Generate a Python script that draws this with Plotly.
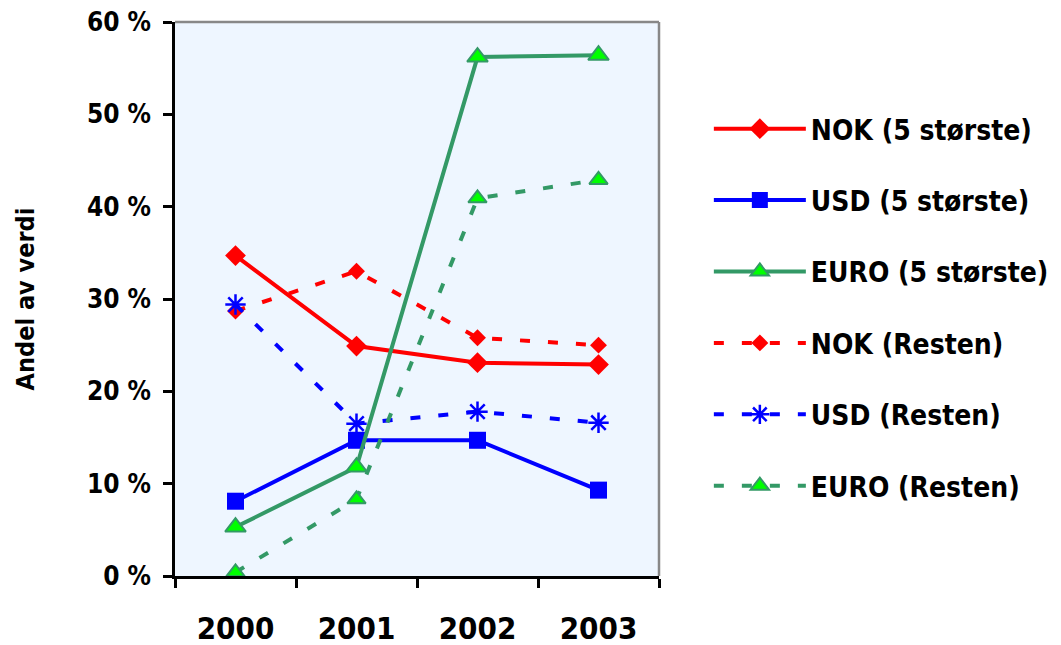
import plotly.graph_objects as go

years = ["2000", "2001", "2002", "2003"]
nok_5 = [34.7, 24.9, 23.1, 22.9]
usd_5 = [8.1, 14.7, 14.7, 9.3]
euro_5 = [5.3, 11.8, 56.2, 56.4]
nok_r = [28.7, 33.0, 25.8, 25.0]
usd_r = [29.4, 16.5, 17.8, 16.6]
euro_r = [0.4, 8.3, 40.9, 42.9]
names = ["NOK (5 største)", "USD (5 største)", "EURO (5 største)",
         "NOK (Resten)", "USD (Resten)", "EURO (Resten)"]
y_ticks = [0, 10, 20, 30, 40, 50, 60]
y_tick_labels = ["0 %", "10 %", "20 %", "30 %", "40 %", "50 %", "60 %"]

RED = "#ff0000"
BLUE = "#0000ff"
GREEN = "#339966"
LIME = "#00ff00"
FONT = "DejaVu Sans Condensed, DejaVu Sans, sans-serif"
DASH = "10px,18px"

series = [
    (nok_5, RED, "solid", dict(symbol="diamond", size=16, color=RED)),
    (usd_5, BLUE, "solid", dict(symbol="square", size=17, color=BLUE)),
    (euro_5, GREEN, "solid", dict(symbol="triangle-up", size=18, color=LIME,
                                   line=dict(color=GREEN, width=2))),
    (nok_r, RED, DASH, dict(symbol="diamond", size=13, color=RED)),
    (usd_r, BLUE, DASH, dict(symbol="asterisk-open", size=17, color=BLUE,
                              line=dict(color=BLUE, width=2.5))),
    (euro_r, GREEN, DASH, dict(symbol="triangle-up", size=16, color=LIME,
                                line=dict(color=GREEN, width=2))),
]

fig = go.Figure()
for i, (vals, col, dash, mk) in enumerate(series):
    fig.add_trace(go.Scatter(
        x=years, y=vals, name=names[i], mode="lines+markers",
        line=dict(color=col, width=4, dash=dash),
        marker=mk, legendgroup=f"g{i}", cliponaxis=False,
    ))

fig.update_layout(
    width=1053, height=637,
    margin=dict(l=167, r=402, t=14, b=69, autoexpand=False),
    paper_bgcolor="white",
    plot_bgcolor="#eef6ff",
    font=dict(family=FONT, color="black"),
    showlegend=True,
    legend=dict(
        x=1.103, y=0.852, xanchor="left", yanchor="top",
        font=dict(size=28, family=FONT, color="black", weight="bold"),
        tracegroupgap=32, itemwidth=92, traceorder="grouped",
        bgcolor="rgba(0,0,0,0)",
    ),
    shapes=[
        dict(type="line", xref="paper", yref="paper", x0=0, x1=1, y0=1, y1=1,
             line=dict(color="#888888", width=2.5)),
        dict(type="line", xref="paper", yref="paper", x0=1, x1=1, y0=0, y1=1,
             line=dict(color="#888888", width=2.5)),
    ],
)

fig.update_xaxes(
    type="category", range=[-0.5, 3.5],
    showline=True, linecolor="black", linewidth=2.5,
    ticks="outside", ticklen=9, tickwidth=2.5, tickcolor="black",
    tickson="boundaries", showgrid=False, zeroline=False,
    tickfont=dict(size=31, family=FONT, weight="bold"),
    ticklabelstandoff=23, ticklabeloverflow="allow",
)
fig.update_yaxes(
    range=[0, 60], tickmode="array", tickvals=y_ticks, ticktext=y_tick_labels,
    showline=True, linecolor="black", linewidth=2.5,
    ticks="outside", ticklen=9, tickwidth=2.5, tickcolor="black",
    showgrid=False, zeroline=False,
    tickfont=dict(size=26, family=FONT, weight="bold"),
    ticklabelstandoff=7, ticklabeloverflow="allow",
    title=dict(text="Andel av verdi", standoff=46,
               font=dict(size=25, family=FONT, weight="bold")),
)

fig.write_html("out.html")
